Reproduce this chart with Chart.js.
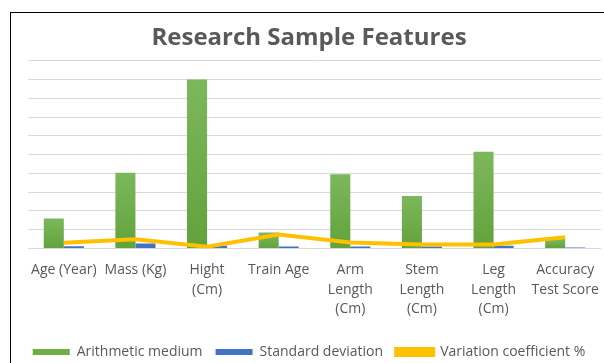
<!DOCTYPE html>
<html>
<head>
<meta charset="utf-8">
<script src="https://cdn.jsdelivr.net/npm/chart.js@4/dist/chart.umd.min.js"></script>
<style>
  html, body { margin: 0; padding: 0; background: #fff; overflow: hidden; }
  #frame {
    position: absolute; left: 10px; top: 12px;
    width: 620px; height: 370px;
    border-left: 1px solid #000; border-top: 1px solid #000;
  }
  #chart { display: block; }
</style>
</head>
<body>
<div id="frame">
  <canvas id="chart" width="598" height="356"></canvas>
</div>
<script>
const categories = [
  'Age (Year)', 'Mass (Kg)', ['Hight', '(Cm)'], 'Train Age',
  ['Arm', 'Length', '(Cm)'], ['Stem', 'Length', '(Cm)'],
  ['Leg', 'Length', '(Cm)'], ['Accuracy', 'Test Score']
]
const arithmeticMedium = [32, 80.6, 180, 17, 79, 56, 103, 10]
const standardDeviation = [2.4, 5.3, 3, 2, 2, 2, 3, 1]
const variationCoefficient = [6, 9.8, 1.8, 14.8, 6.3, 4.2, 4.2, 11.9]

const textColor = '#595959'
const ctx = document.getElementById('chart')

// lighter at the top of each green bar, darker at the base
function greenFill(context) {
  const chart = context.chart
  const y = chart.scales.y
  if (!chart.chartArea || !y || context.raw == null) return '#70AD47'
  const top = y.getPixelForValue(context.raw)
  const base = y.getPixelForValue(0)
  if (!isFinite(top) || base - top < 1) return '#70AD47'
  const g = chart.ctx.createLinearGradient(0, top, 0, base)
  g.addColorStop(0, '#7DB75C')
  g.addColorStop(1, '#62A23B')
  return g
}

new Chart(ctx, {
  data: {
    labels: categories,
    datasets: [
      {
        type: 'bar',
        label: 'Arithmetic medium',
        data: arithmeticMedium,
        backgroundColor: greenFill,
        order: 1
      },
      {
        type: 'bar',
        label: 'Standard deviation',
        data: standardDeviation,
        backgroundColor: '#4472C4',
        order: 1
      },
      {
        type: 'line',
        label: 'Variation coefficient %',
        data: variationCoefficient,
        borderColor: '#FFC000',
        backgroundColor: '#FFC000',
        borderWidth: 4,
        pointRadius: 0,
        tension: 0,
        order: -1
      }
    ]
  },
  options: {
    responsive: false,
    animation: false,
    categoryPercentage: 0.56,
    barPercentage: 1,
    layout: { padding: { left: 6, right: 8, top: 0, bottom: 0 } },
    plugins: {
      tooltip: { enabled: false },
      title: {
        display: true,
        text: 'Research Sample Features',
        color: textColor,
        font: { family: 'Open Sans', size: 24, weight: 'bold' },
        padding: { top: 11, bottom: 8 }
      },
      legend: {
        position: 'bottom',
        labels: {
          color: textColor,
          font: { family: 'Open Sans', size: 14 },
          boxWidth: 37,
          boxHeight: 6,
          padding: 13,
          generateLabels: (chart) => {
            const items = Chart.defaults.plugins.legend.labels.generateLabels(chart)
            items.forEach(it => {
              if (it.datasetIndex === 0) it.fillStyle = '#70AD47'
            })
            return items
          },
          sort: (a, b) => a.datasetIndex - b.datasetIndex
        }
      }
    },
    scales: {
      x: {
        afterFit: (scale) => { scale.height += 9 },
        grid: { display: false },
        border: { display: false },
        ticks: {
          color: textColor,
          font: { family: 'Open Sans', size: 14, lineHeight: '19.5px' },
          padding: 4,
          maxRotation: 0,
          autoSkip: false
        }
      },
      y: {
        min: 0,
        max: 200,
        afterFit: (scale) => { scale.width = 11 },
        grid: { color: '#D9D9D9', lineWidth: 1, drawTicks: false },
        border: { display: false },
        ticks: { stepSize: 20, display: false }
      }
    }
  }
})
</script>
</body>
</html>
